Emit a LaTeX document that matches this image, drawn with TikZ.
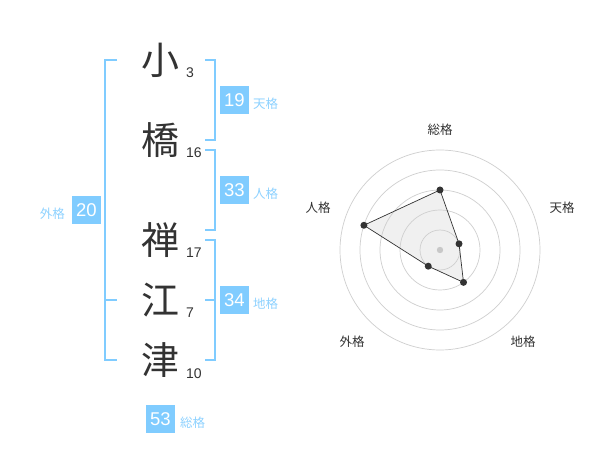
\documentclass[tikz,border=0pt]{standalone}
\usepackage{fontspec}
\setmainfont{Liberation Sans}
\newfontfamily\jpfont{Noto Sans CJK JP}
\definecolor{sky}{HTML}{80CCFF}
\definecolor{skytext}{HTML}{8ED2FF}
\definecolor{inkdark}{HTML}{333333}
\definecolor{ringgrey}{HTML}{CFCFCF}
\definecolor{areagrey}{HTML}{F0F0F0}
\definecolor{hubgrey}{HTML}{C8C8C8}
\tikzset{
  kanji/.style={text=inkdark, font=\jpfont\fontsize{38}{38}\selectfont},
  strokes/.style={anchor=base west, text=inkdark, font=\fontsize{14}{14}\selectfont},
  scorebox/.style={fill=sky, text=white, minimum width=29pt, minimum height=28pt,
    font=\fontsize{18.5}{18.5}\selectfont},
  scorename/.style={text=skytext, font=\jpfont\fontsize{12.5}{12.5}\selectfont},
  bracket/.style={draw=sky, line width=2pt},
  axisname/.style={text=inkdark, font=\jpfont\fontsize{12.5}{12.5}\selectfont},
  vertex/.style={circle, fill=inkdark, minimum size=7pt},
}

\begin{document}
\begin{tikzpicture}[x=1pt, y=-1pt, every node/.style={inner sep=0pt}]

\useasboundingbox[fill=white] (0,0) rectangle (600,470);

% name, one character per row, with stroke counts
\node[kanji] (ko)  at (160,60)  {小};
\node[kanji] (hashi) at (160,140) {橋};
\node[kanji] (zen) at (160,240) {禅};
\node[kanji] (e)   at (160,300) {江};
\node[kanji] (tsu) at (160,360) {津};
\node[strokes] (nKo)    at (186,78)  {3};
\node[strokes] (nHashi) at (186,158) {16};
\node[strokes] (nZen)   at (186,258) {17};
\node[strokes] (nE)     at (186,318) {7};
\node[strokes] (nTsu)   at (186,378) {10};

% brackets grouping the rows
\draw[bracket] (117,60) -- (105,60) -- (105,360) -- (117,360)
               (105,300) -- (117,300);
\draw[bracket] (205,60) -- (215,60) -- (215,140) -- (205,140);
\draw[bracket] (205,150) -- (215,150) -- (215,230) -- (205,230);
\draw[bracket] (205,240) -- (215,240) -- (215,360) -- (205,360)
               (205,300) -- (215,300);

% scores
\node[scorebox] (ten)  at (234.5,100.5) {19};
\node[scorebox] (jin)  at (234.5,190)   {33};
\node[scorebox] (chi)  at (234.5,300.5) {34};
\node[scorebox] (gai)  at (86.5,210)    {20};
\node[scorebox] (sou)  at (160.5,419)   {53};
\node[scorename, anchor=west] (tenName) at (253,104)   {天格};
\node[scorename, anchor=west] (jinName) at (253,194)   {人格};
\node[scorename, anchor=west] (chiName) at (253,304)   {地格};
\node[scorename, anchor=east] (gaiName) at (65,213.5)  {外格};
\node[scorename, anchor=west] (souName) at (180,423)   {総格};

% radar chart
\coordinate (hub) at (440,250);
\coordinate (pSou) at ([shift={(-90:60)}]hub);
\coordinate (pTen) at ([shift={(-18:20)}]hub);
\coordinate (pChi) at ([shift={(54:40)}]hub);
\coordinate (pGai) at ([shift={(126:20)}]hub);
\coordinate (pJin) at ([shift={(198:80)}]hub);

\fill[areagrey] (pSou) -- (pTen) -- (pChi) -- (pGai) -- (pJin) -- cycle;
\foreach \r in {20,40,60,80,100}
  \draw[ringgrey, line width=0.7pt] (hub) circle (\r pt);
\draw[inkdark, line width=0.7pt]
  (pSou) -- (pTen) -- (pChi) -- (pGai) -- (pJin) -- cycle;
\fill[hubgrey] (hub) circle (3.2pt);
\foreach \p in {pSou,pTen,pChi,pGai,pJin}
  \node[vertex] at (\p) {};

\node[axisname] (axSou) at (440,130) {総格};
\node[axisname] (axTen) at (562,208) {天格};
\node[axisname] (axJin) at (318,208) {人格};
\node[axisname] (axGai) at (352,342) {外格};
\node[axisname] (axChi) at (523,342) {地格};

\end{tikzpicture}
\end{document}
